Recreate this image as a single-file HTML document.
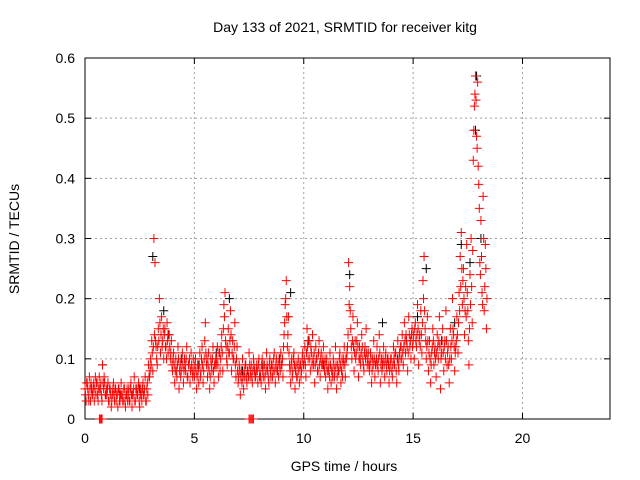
<!DOCTYPE html>
<html><head><meta charset="utf-8"><style>
body{margin:0;background:#fff}
svg{display:block;font-family:"Liberation Sans",sans-serif}
</style></head><body>
<svg id="chart" width="640" height="480">
<rect width="640" height="480" fill="#fff"/>
<g id="grid"></g>
<g id="axes"></g>
<g id="black"></g>
<g id="red"></g>
<text x="345" y="32" font-size="14" text-anchor="middle">Day 133 of 2021, SRMTID for receiver kitg</text>
<text x="344" y="471" font-size="14" text-anchor="middle">GPS time / hours</text>
<text transform="translate(19,239) rotate(-90)" font-size="14" text-anchor="middle">SRMTID / TECUs</text>
</svg>
<script>
const xTicks=[0,5,10,15,20];
const yTicks=[0,0.1,0.2,0.3,0.4,0.5,0.6];
const yTickLabels=["0","0.1","0.2","0.3","0.4","0.5","0.6"];
const redStart=0, redStep=0.05;
const redValues=[
.05,.03,.06,.04,.07,.03,.05,.04,.06,.05,.04,.06,.03,.07,.05,.04,.09,.05,.06,.04,
.04,.06,.03,.05,.02,.04,.06,.03,.05,.04,.02,.05,.03,.06,.04,.03,.05,.02,.04,.03,
.05,.03,.06,.02,.04,.07,.03,.05,.04,.06,.02,.05,.03,.06,.04,.07,.03,.06,.09,.07,
.10,.13,.08,.30,.26,.12,.09,.15,.20,.11,.17,.13,.10,.15,.12,.16,.11,.14,.10,.13,
.08,.11,.06,.10,.07,.12,.05,.09,.08,.11,.06,.10,.08,.12,.07,.09,.06,.11,.08,.10,
.07,.10,.05,.09,.06,.11,.08,.12,.06,.10,.16,.09,.07,.11,.05,.10,.08,.12,.06,.09,
.09,.12,.07,.11,.10,.14,.08,.19,.21,.12,.09,.15,.11,.18,.08,.13,.10,.16,.07,.12,
.06,.09,.04,.08,.10,.05,.07,.09,.06,.08,.11,.07,.09,.06,.10,.08,.07,.09,.06,.10,
.08,.06,.10,.07,.09,.05,.11,.08,.06,.10,.07,.09,.08,.11,.06,.10,.08,.07,.09,.11,
.09,.07,.14,.19,.23,.12,.17,.09,.06,.10,.08,.11,.05,.09,.07,.10,.06,.09,.08,.11,
.09,.12,.07,.15,.10,.13,.08,.11,.14,.09,.06,.12,.10,.08,.13,.07,.11,.09,.12,.08,
.07,.10,.05,.09,.11,.06,.08,.10,.07,.12,.05,.09,.08,.11,.06,.10,.09,.12,.07,.10,
.12,.26,.22,.15,.10,.17,.08,.13,.11,.16,.07,.12,.09,.14,.10,.08,.12,.15,.09,.11,
.08,.11,.06,.10,.13,.07,.09,.12,.08,.14,.06,.10,.09,.12,.07,.11,.08,.10,.06,.09,
.10,.07,.12,.09,.11,.06,.13,.08,.10,.12,.14,.09,.16,.11,.13,.08,.17,.12,.10,.15,
.13,.10,.16,.12,.19,.09,.14,.18,.11,.23,.27,.15,.10,.17,.08,.13,.06,.11,.15,.09,
.12,.07,.14,.10,.17,.05,.11,.15,.08,.13,.18,.09,.12,.06,.15,.10,.20,.14,.08,.12,
.17,.11,.21,.27,.31,.19,.25,.14,.22,.29,.18,.09,.24,.30,.16,.43,.52,.57,.47,.56,
.39,.26,.33,.21,.37,.18,.29,.15];
const red2Start=0.025, red2Step=0.05;
const red2Values=[
.04,.06,.05,.03,.05,.06,.04,.05,.03,.07,.06,.04,.05,.05,.06,.03,.06,.07,.04,.05,
.05,.03,.05,.04,.03,.05,.04,.05,.03,.04,.05,.03,.04,.04,.03,.05,.03,.04,.05,.04,
.03,.05,.04,.04,.05,.03,.05,.04,.05,.03,.04,.04,.05,.04,.05,.03,.05,.04,.07,.08,
.09,.11,.12,.14,.13,.10,.12,.13,.16,.14,.12,.15,.14,.12,.10,.13,.14,.12,.11,.09,
.10,.09,.08,.08,.09,.10,.08,.07,.10,.09,.08,.09,.10,.07,.09,.10,.08,.09,.07,.08,
.09,.08,.07,.08,.09,.07,.10,.09,.08,.13,.11,.10,.09,.08,.07,.09,.10,.08,.09,.10,
.10,.09,.11,.08,.12,.11,.15,.17,.13,.10,.12,.11,.13,.14,.11,.10,.12,.09,.10,.08,
.07,.08,.07,.06,.07,.08,.09,.07,.08,.07,.09,.08,.07,.08,.09,.07,.08,.08,.09,.07,
.07,.09,.08,.09,.07,.08,.09,.07,.09,.08,.09,.07,.10,.08,.09,.08,.09,.10,.08,.09,
.10,.12,.16,.20,.17,.14,.11,.08,.09,.07,.10,.09,.08,.07,.09,.08,.09,.07,.10,.09,
.10,.09,.11,.12,.13,.10,.12,.09,.10,.11,.09,.10,.08,.11,.09,.10,.09,.10,.09,.10,
.09,.08,.08,.07,.09,.08,.07,.09,.08,.09,.07,.08,.10,.09,.08,.07,.10,.09,.10,.11,
.14,.19,.18,.12,.13,.12,.11,.10,.13,.12,.10,.10,.11,.12,.09,.11,.10,.11,.10,.09,
.09,.10,.08,.09,.10,.09,.10,.09,.10,.11,.09,.08,.10,.09,.10,.09,.10,.09,.08,.10,
.08,.09,.10,.11,.08,.10,.09,.11,.12,.10,.11,.12,.13,.14,.12,.11,.14,.13,.14,.12,
.14,.15,.13,.14,.15,.13,.12,.14,.16,.20,.18,.13,.12,.13,.11,.10,.09,.12,.13,.11,
.10,.11,.12,.13,.12,.10,.13,.11,.12,.10,.13,.11,.09,.10,.12,.13,.15,.12,.11,.13,
.14,.16,.18,.22,.25,.23,.20,.18,.17,.21,.13,.15,.19,.22,.28,.48,.54,.53,.45,.42,
.35,.24,.27,.19,.30,.22,.25,.20];
const zeroTimes=[0.66,0.7,0.74,0.78,7.5,7.55,7.6,7.65,7.7];
const blackTimes=[0.3,0.8,1.6,2.5,3.1,3.6,3.8,4.4,5.2,6.0,6.6,7.2,8.1,8.9,9.4,10.2,10.9,11.6,12.1,12.8,13.6,14.3,15.2,15.6,16.3,16.9,17.2,17.6,17.85,17.9,18.1];
const blackValues=[.05,.09,.04,.05,.27,.18,.14,.10,.09,.11,.20,.08,.09,.10,.21,.13,.09,.08,.24,.12,.16,.10,.17,.25,.13,.16,.29,.26,.48,.57,.30];

const X0=85,X1=610,Y0=419,Y1=58;
const xs=v=>X0+(v/24)*(X1-X0);
const ys=v=>Y0-(v/0.6)*(Y0-Y1);
const NS='http://www.w3.org/2000/svg';
function mk(tag,attrs,parent){const e=document.createElementNS(NS,tag);for(const k in attrs)e.setAttribute(k,attrs[k]);parent.appendChild(e);return e;}
const grid=document.getElementById('grid'),axes=document.getElementById('axes');
xTicks.forEach((t,i)=>{
  if(t>0){const l=mk('line',{x1:xs(t),x2:xs(t),y1:Y0,y2:Y1,stroke:'#a0a0a0','stroke-dasharray':'2,3'},grid);
  
  }
  mk('line',{x1:xs(t),x2:xs(t),y1:Y0,y2:Y0-6,stroke:'#000'},axes);
  mk('line',{x1:xs(t),x2:xs(t),y1:Y1,y2:Y1+6,stroke:'#000'},axes);
  const tx=mk('text',{x:xs(t),y:Y0+24,'font-size':14,'text-anchor':'middle'},axes);tx.textContent=String(t);
  
  
});
yTicks.forEach((t,i)=>{
  if(t>0){const l=mk('line',{x1:X0,x2:X1,y1:ys(t),y2:ys(t),stroke:'#a0a0a0','stroke-dasharray':'2,3'},grid);
  
  }
  mk('line',{x1:X0,x2:X0+6,y1:ys(t),y2:ys(t),stroke:'#000'},axes);
  mk('line',{x1:X1,x2:X1-6,y1:ys(t),y2:ys(t),stroke:'#000'},axes);
  const tx=mk('text',{x:X0-10,y:ys(t)+5,'font-size':14,'text-anchor':'end'},axes);tx.textContent=yTickLabels[i];
  
  
});
const fr=mk('rect',{x:X0,y:Y1,width:X1-X0,height:Y0-Y1,fill:'none',stroke:'#000'},axes);


function plus(t,v,color,parent,name){
  const x=xs(t),y=ys(v),s=4.5;
  const p=mk('path',{d:`M${x-s},${y}H${x+s}M${x},${y-s}V${y+s}`,stroke:color,'stroke-width':1,fill:'none'},parent);
  
  
}
const black=document.getElementById('black'),red=document.getElementById('red');
blackValues.forEach((v,i)=>plus(blackTimes[i],v,'#000',black,'black-point'));
redValues.forEach((v,i)=>plus(redStart+i*redStep,v,'#ff0000',red,'red-point'));
red2Values.forEach((v,i)=>plus(red2Start+i*red2Step,v,'#ff0000',red,'red-point'));
zeroTimes.forEach(t=>plus(t,0,'#ff0000',red,'red-zero-point'));
</script>
</body></html>
